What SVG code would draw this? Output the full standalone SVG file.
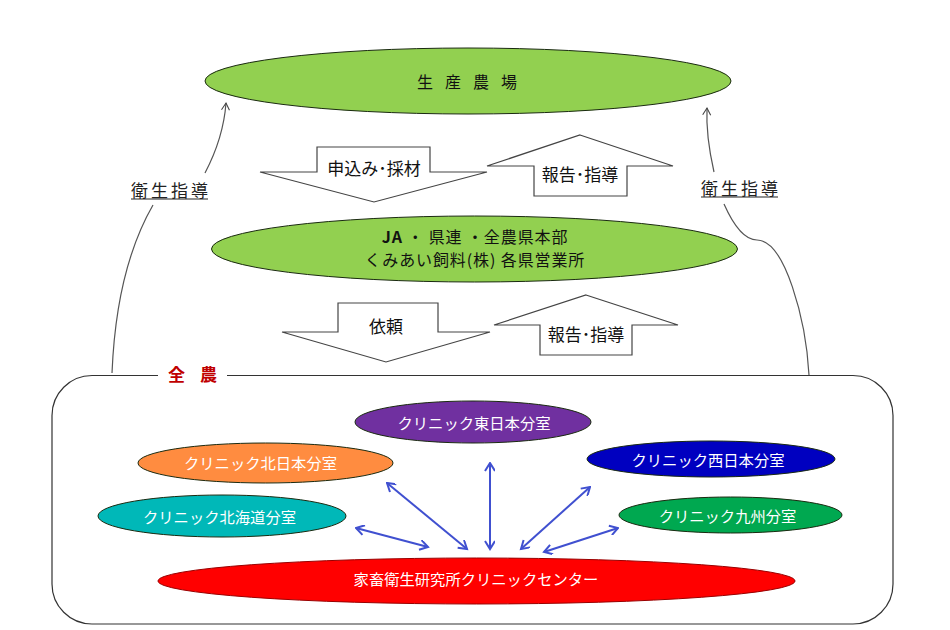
<svg xmlns="http://www.w3.org/2000/svg" width="950" height="630" viewBox="0 0 950 630">
<style>
text{font-family:"Noto Sans CJK JP","Liberation Sans",sans-serif;text-anchor:middle;dominant-baseline:central}
.e{stroke:#1a2a10;stroke-width:1}
.g{fill:#92d050}
.w{fill:#fff;font-size:15.300px}
.k{fill:#111;font-size:17px}
.j{fill:#111;font-size:16px;letter-spacing:.9px}
.a{fill:#fff;stroke:#444;stroke-width:1.2}
.c{fill:none;stroke:#555;stroke-width:1.2}
.b{fill:none;stroke:#4050d0;stroke-width:2;marker-start:url(#bs);marker-end:url(#be)}
.u{font-size:17px;letter-spacing:3px;fill:#222}
.ul{stroke:#222;stroke-width:1.2}
</style>
<defs>
<marker id="be" markerWidth="12" markerHeight="12" refX="9" refY="5" orient="auto" markerUnits="userSpaceOnUse"><path d="M1 0L9 5L1 10" fill="none" stroke="#4050d0" stroke-width="2"/></marker>
<marker id="bs" markerWidth="12" markerHeight="12" refX="1" refY="5" orient="auto" markerUnits="userSpaceOnUse"><path d="M9 0L1 5L9 10" fill="none" stroke="#4050d0" stroke-width="2"/></marker>
<marker id="open" markerWidth="12" markerHeight="12" refX="8" refY="5" orient="auto" markerUnits="userSpaceOnUse"><path d="M1 1L8 5L1 9" fill="none" stroke="#444" stroke-width="1.1"/></marker>
</defs>
<rect width="950" height="630" fill="#fff"/>
<g id="zennoh-frame">
<path d="M158 375.500H92A40 40 0 0 0 52 415.500V584A40 40 0 0 0 92 624H853A40 40 0 0 0 893 584V415.500A40 40 0 0 0 853 375.500H227" fill="#fff" stroke="#333" stroke-width="1.2"/>
<text x="200" y="373" font-size="17" font-weight="700" fill="#c00000" letter-spacing="15">全農</text>
</g>
<g id="connectors">
<path class="c" d="M112 373C115 300 130 245 153 205"/>
<path class="c" d="M205 173C216 152 224 130 226 103" marker-end="url(#open)"/>
<path class="c" d="M714 172C709 150 706 130 707 108" marker-end="url(#open)"/>
<path class="c" d="M724 204C732 222 743 240 757 240C785 240 806 320 809 375"/>
<path class="b" d="M356 528L428 547"/>
<path class="b" d="M387 483L467 549"/>
<path class="b" d="M490 463V549"/>
<path class="b" d="M590 487L521 549"/>
<path class="b" d="M618 528L544 552"/>
</g>
<g id="farm"><ellipse class="e g" cx="468" cy="81" rx="263" ry="33"/><text x="473" y="81" font-size="16" fill="#111" letter-spacing="12">生産農場</text></g>
<g id="ja"><ellipse class="e g" cx="474.500" cy="249" rx="263" ry="33"/><text x="475" y="236" class="j"><tspan font-weight="700">JA</tspan> ・ 県連 ・全農県本部</text><text x="475" y="259" class="j">くみあい飼料(株) 各県営業所</text></g>
<g id="arrow-apply"><path class="a" d="M317 147H430V172H487L374 202L260 172H317Z"/><text x="374" y="167" class="k">申込み･採材</text></g>
<g id="arrow-report1"><path class="a" d="M580 135L673 166H627V196H534V166H487Z"/><text x="580" y="173" class="k">報告･指導</text></g>
<g id="arrow-request"><path class="a" d="M338 303H438V332H490L386 362L282 332H338Z"/><text x="386" y="325" class="k">依頼</text></g>
<g id="arrow-report2"><path class="a" d="M586 295L678 325H632V355H540V325H494Z"/><text x="586" y="333" class="k">報告･指導</text></g>
<g id="label-left"><text x="171" y="189" class="u">衛生指導</text><path class="ul" d="M131 199H208"/></g>
<g id="label-right"><text x="741" y="187" class="u">衛生指導</text><path class="ul" d="M701 197H778"/></g>
<g id="east"><ellipse class="e" fill="#7030a0" cx="473" cy="422" rx="118" ry="21"/><text x="474" y="422" class="w">クリニック東日本分室</text></g>
<g id="north"><ellipse class="e" fill="#ff8c40" cx="265.500" cy="463" rx="127.500" ry="20"/><text x="260.500" y="462" class="w">クリニック北日本分室</text></g>
<g id="west"><ellipse class="e" fill="#0000c0" cx="711" cy="459" rx="124" ry="18"/><text x="708" y="459" class="w">クリニック西日本分室</text></g>
<g id="kyushu"><ellipse class="e" fill="#00a850" cx="730.500" cy="515" rx="111.500" ry="18"/><text x="727.500" y="515" class="w">クリニック九州分室</text></g>
<g id="hokkaido"><ellipse class="e" fill="#00b8b8" cx="222" cy="516" rx="124" ry="21"/><text x="219.500" y="516" class="w">クリニック北海道分室</text></g>
<g id="center"><ellipse fill="#ff0000" stroke="#900" cx="476.500" cy="581" rx="318.500" ry="23"/><text x="476" y="578" class="w">家畜衛生研究所クリニックセンター</text></g>
</svg>
